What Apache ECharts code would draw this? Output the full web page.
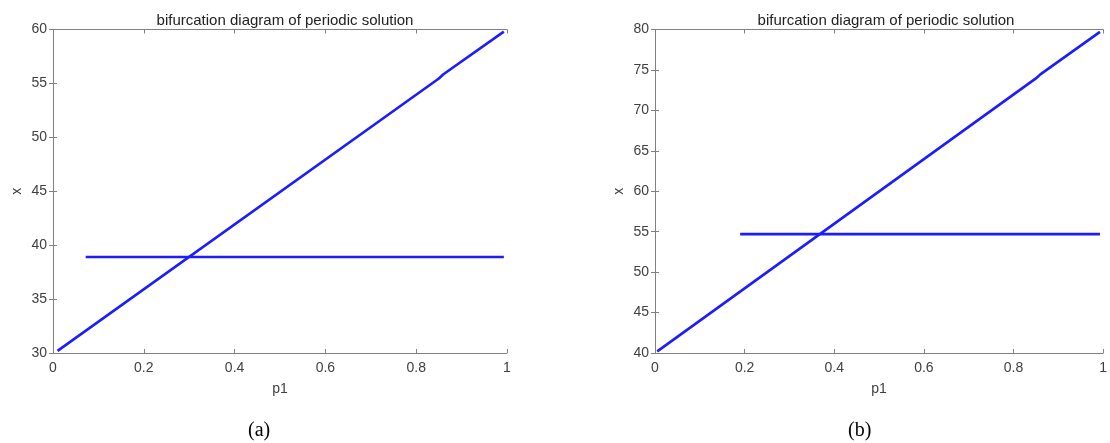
<!DOCTYPE html>
<html>
<head>
<meta charset="utf-8">
<script src="https://cdn.jsdelivr.net/npm/echarts@6/dist/echarts.min.js"></script>
<style>
html,body{margin:0;padding:0;background:#fff;}
#c{width:1110px;height:443px;}
</style>
</head>
<body>
<div id="c"></div>
<script>
// ---- data ----
const titleText = 'bifurcation diagram of periodic solution';
const panelLabels = ['(a)', '(b)'];
const xAxisName = 'p1';
const yAxisName = 'x';
// panel (a)
const yRangeA = [30, 60];
const diagA = [[0.01, 30.2], [0.85, 55.45], [0.86, 55.85], [0.993, 59.8]];
const horizA = [[0.072, 38.9], [0.993, 38.9]];
// panel (b)
const yRangeB = [40, 80];
const diagB = [[0.005, 40.2], [0.85, 73.95], [0.86, 74.45], [0.993, 79.7]];
const horizB = [[0.19, 54.7], [0.993, 54.7]];

const axisColor = '#808080';
const textColor = '#404040';
const lineColor = '#1c1cff';
const font = 'Liberation Sans, Arial, sans-serif';

const chart = echarts.init(document.getElementById('c'));

const grids = [
  {left: 53, right: 603, top: 29.5, bottom: 90},
  {left: 655, right: 2, top: 29.5, bottom: 90}
];

function xAxes(gi) {
  return [
    {gridIndex: gi, type: 'value', min: 0, max: 1, interval: 0.2, position: 'bottom',
     name: xAxisName, nameLocation: 'middle', nameGap: 29,
     nameTextStyle: {color: textColor, fontSize: 14, fontFamily: font},
     axisLine: {show: true, lineStyle: {color: axisColor, width: 1}},
     axisTick: {show: true, inside: true, length: 4, lineStyle: {color: axisColor}},
     axisLabel: {color: textColor, fontSize: 14, fontFamily: font, margin: 8},
     splitLine: {show: false}},
    {gridIndex: gi, type: 'value', min: 0, max: 1, interval: 0.2, position: 'top',
     axisLine: {show: true, lineStyle: {color: axisColor, width: 1}},
     axisTick: {show: true, inside: true, length: 4, lineStyle: {color: axisColor}},
     axisLabel: {show: false}, splitLine: {show: false}}
  ];
}
function yAxes(gi, range) {
  return [
    {gridIndex: gi, type: 'value', min: range[0], max: range[1], interval: 5, position: 'left',
     name: yAxisName, nameLocation: 'middle', nameGap: 29, nameRotate: 90,
     nameTextStyle: {color: textColor, fontSize: 14, fontFamily: font},
     axisLine: {show: true, lineStyle: {color: axisColor, width: 1}},
     axisTick: {show: true, inside: true, length: 4, lineStyle: {color: axisColor}},
     axisLabel: {color: textColor, fontSize: 14, fontFamily: font, margin: 6},
     splitLine: {show: false}},
    {gridIndex: gi, type: 'value', min: range[0], max: range[1], interval: 5, position: 'right',
     axisLine: {show: true, lineStyle: {color: axisColor, width: 1}},
     axisTick: {show: true, inside: true, length: 4, lineStyle: {color: axisColor}},
     axisLabel: {show: false}, splitLine: {show: false}}
  ];
}

function lineSeries(data, xi, yi) {
  return {type: 'line', xAxisIndex: xi, yAxisIndex: yi, data: data,
    showSymbol: false, symbol: 'none', animation: false,
    lineStyle: {color: lineColor, width: 2.6}};
}

chart.setOption({
  backgroundColor: '#ffffff',
  animation: false,
  title: [
    {text: titleText, left: 280, top: 8, textAlign: 'center',
     textStyle: {fontSize: 15, fontWeight: 'normal', color: '#222', fontFamily: font}},
    {text: titleText, left: 881, top: 8, textAlign: 'center',
     textStyle: {fontSize: 15, fontWeight: 'normal', color: '#222', fontFamily: font}}
  ],
  grid: grids,
  xAxis: [...xAxes(0), ...xAxes(1)],
  yAxis: [...yAxes(0, yRangeA), ...yAxes(1, yRangeB)],
  series: [
    lineSeries(diagA, 0, 0),
    lineSeries(horizA, 0, 0),
    lineSeries(diagB, 2, 2),
    lineSeries(horizB, 2, 2)
  ],
  graphic: [
    {type: 'text', left: 248, top: 421, style: {text: panelLabels[0], fontSize: 20, fontFamily: 'Liberation Serif, Times New Roman, serif', fill: '#000'}},
    {type: 'text', left: 848, top: 421, style: {text: panelLabels[1], fontSize: 20, fontFamily: 'Liberation Serif, Times New Roman, serif', fill: '#000'}}
  ]
});
</script>
</body>
</html>
